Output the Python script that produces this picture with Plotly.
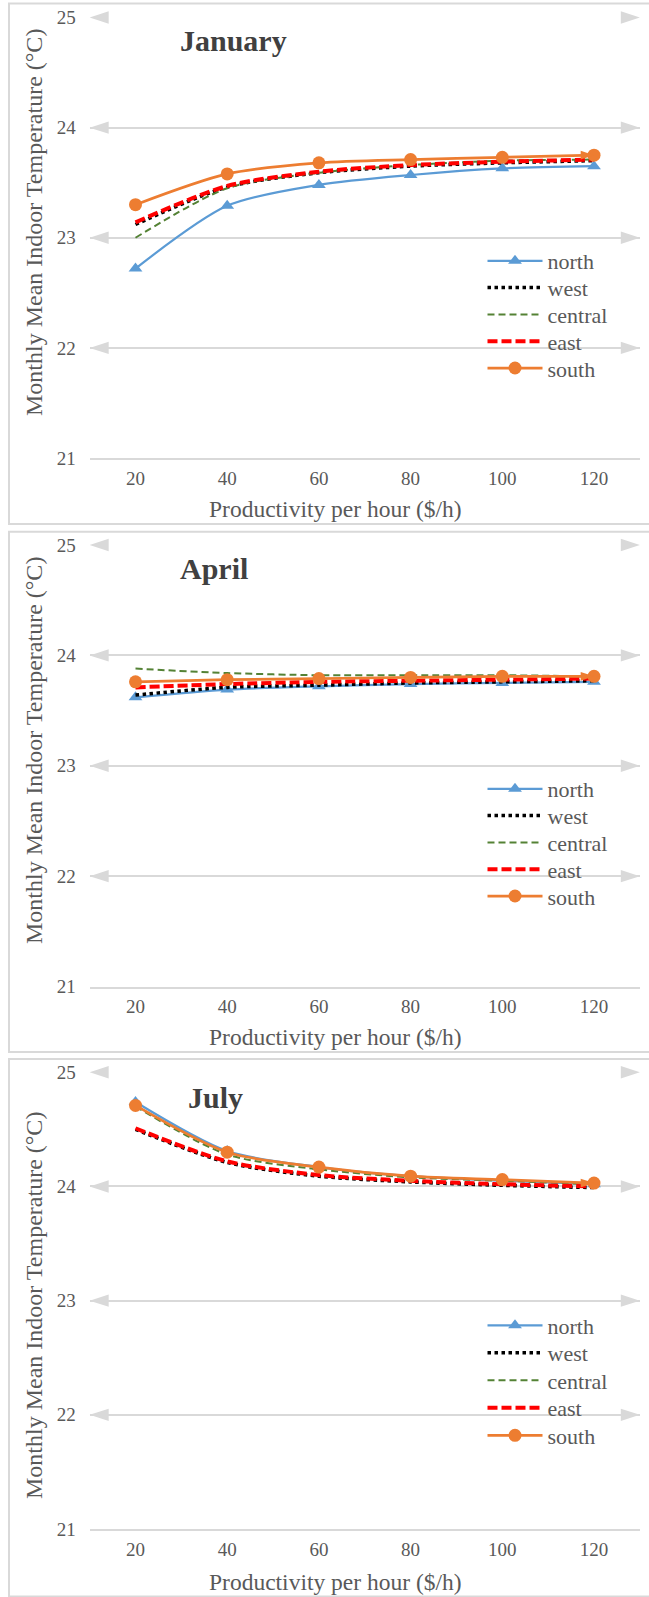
import plotly.graph_objects as go

# ---------------------------------------------------------------- data
productivity = [20, 40, 60, 80, 100, 120]
temp_ticks = [21, 22, 23, 24, 25]
zones = ["north", "west", "central", "east", "south"]
months = ["January", "April", "July"]

jan_north = [22.72, 23.29, 23.48, 23.57, 23.63, 23.65]
jan_west = [23.12, 23.46, 23.59, 23.65, 23.68, 23.70]
jan_central = [23.00, 23.45, 23.59, 23.66, 23.70, 23.71]
jan_east = [23.14, 23.47, 23.60, 23.66, 23.69, 23.71]
jan_south = [23.30, 23.58, 23.68, 23.71, 23.73, 23.75]

apr_north = [23.62, 23.69, 23.72, 23.74, 23.75, 23.76]
apr_west = [23.64, 23.71, 23.73, 23.75, 23.76, 23.77]
apr_central = [23.88, 23.84, 23.82, 23.82, 23.82, 23.81]
apr_east = [23.71, 23.74, 23.76, 23.77, 23.78, 23.79]
apr_south = [23.76, 23.78, 23.79, 23.80, 23.81, 23.81]

jul_north = [24.74, 24.31, 24.17, 24.09, 24.05, 24.02]
jul_west = [24.50, 24.21, 24.09, 24.04, 24.01, 23.99]
jul_central = [24.70, 24.28, 24.15, 24.08, 24.05, 24.02]
jul_east = [24.51, 24.22, 24.10, 24.05, 24.02, 24.00]
jul_south = [24.71, 24.30, 24.17, 24.09, 24.06, 24.03]

month_series = [
    [jan_north, jan_west, jan_central, jan_east, jan_south],
    [apr_north, apr_west, apr_central, apr_east, apr_south],
    [jul_north, jul_west, jul_central, jul_east, jul_south],
]

# ---------------------------------------------------------------- layout geometry (pixels)
W, H = 649, 1597
X_LEFT, X_RIGHT = 89.65, 639.85          # plot area horizontally
X_RANGE = [10, 130]
panels = [
    dict(top=17.5, bottom=458.0, ftop=3.5, fbot=524.0, title_y=40, title_x=178,
         legend_row0=261.0, legend_step=26.8, ytitle=223, xtitle=509),
    dict(top=545.0, bottom=986.5, ftop=531.7, fbot=1052.0, title_y=568, title_x=178,
         legend_row0=789.0, legend_step=26.8, ytitle=751, xtitle=1037),
    dict(top=1072.3, bottom=1529.0, ftop=1059.0, fbot=1596.5, title_y=1097, title_x=186,
         legend_row0=1325.5, legend_step=27.5, ytitle=1306, xtitle=1582),
]

GRID = "#D9D9D9"
TEXT = "#595959"
SERIF = "Liberation Serif"

styles = {
    "north": dict(line=dict(color="#5B9BD5", width=2.2),
                  marker=dict(symbol="triangle-up", size=12, color="#5B9BD5"),
                  mode="lines+markers"),
    "west": dict(line=dict(color="#000000", width=3.5, dash="dot"), mode="lines"),
    "central": dict(line=dict(color="#548235", width=2, dash="7px,4px"), mode="lines"),
    "east": dict(line=dict(color="#FF0000", width=4, dash="10px,4px"), mode="lines"),
    "south": dict(line=dict(color="#ED7D31", width=2.75),
                  marker=dict(symbol="circle", size=13, color="#ED7D31"),
                  mode="lines+markers"),
}


def py(p):
    return 1 - p / H


def px(p):
    return p / W


fig = go.Figure()
shapes, annotations = [], []
legends = {}

for i, (month, series, pan) in enumerate(zip(months, month_series, panels)):
    n = "" if i == 0 else str(i + 1)
    xa, ya = "x" + n, "y" + n

    # arrow heads on both ends of every horizontal gridline
    for t in temp_ticks[1:]:
        fig.add_trace(go.Scatter(
            x=[X_RANGE[0], X_RANGE[1]], y=[t, t], xaxis=xa, yaxis=ya,
            mode="markers", cliponaxis=False, showlegend=False, hoverinfo="skip",
            marker=dict(symbol="arrow", angle=[-90, 90], size=20, color=GRID,
                        line=dict(width=0)),
        ))

    for k, (zone, vals) in enumerate(zip(zones, series)):
        st = styles[zone]
        # one single-entry legend per series keeps the rows tightly spaced
        idx = i * len(zones) + k + 1
        leg = "legend" if idx == 1 else f"legend{idx}"
        legends[leg] = dict(
            x=px(482.5), y=py(pan["legend_row0"] + k * pan["legend_step"]),
            xanchor="left", yanchor="middle", bgcolor="rgba(0,0,0,0)",
            borderwidth=0, itemwidth=55,
            font=dict(family=SERIF, size=22, color=TEXT),
        )
        fig.add_trace(go.Scatter(
            x=productivity, y=vals, name=zone,
            xaxis=xa, yaxis=ya, legend=leg, mode=st["mode"],
            line=dict(shape="spline", smoothing=0.8, **st["line"]),
            marker=st.get("marker"), cliponaxis=False,
        ))

    # end arrow of the south series
    fig.add_trace(go.Scatter(
        x=productivity[-1:], y=series[-1][-1:], xaxis=xa, yaxis=ya,
        mode="markers", cliponaxis=False, showlegend=False, hoverinfo="skip",
        marker=dict(symbol="arrow", angle=90, size=14, color="#ED7D31",
                    line=dict(width=0)),
    ))

    dom_y = [py(pan["bottom"]), py(pan["top"])]
    fig.update_layout({
        "xaxis" + n: dict(
            domain=[px(X_LEFT), px(X_RIGHT)], range=X_RANGE, anchor=ya,
            tickvals=productivity, showgrid=False, zeroline=False,
            showline=True, linecolor=GRID, linewidth=2, ticks="",
            ticklabelstandoff=2, automargin=False,
            tickfont=dict(family=SERIF, size=19, color=TEXT),
        ),
        "yaxis" + n: dict(
            domain=dom_y, range=[21, 25], anchor=xa, tickvals=temp_ticks,
            showgrid=True, gridcolor=GRID, gridwidth=2, zeroline=False,
            showline=False, ticks="", ticklabelstandoff=13, automargin=False,
            tickfont=dict(family=SERIF, size=19, color=TEXT),
        ),
    })

    # panel frame
    shapes.append(dict(type="rect", xref="paper", yref="paper",
                       x0=px(9), x1=px(W + 10), y0=py(pan["fbot"]), y1=py(pan["ftop"]),
                       line=dict(color=GRID, width=2), fillcolor="rgba(0,0,0,0)",
                       layer="below"))

    annotations.append(dict(text=month, xref="paper", yref="paper",
                            x=px(pan["title_x"]), y=py(pan["title_y"]),
                            xanchor="left", yanchor="middle", showarrow=False,
                            font=dict(family=SERIF, size=30, color="#404040", weight="bold")))
    annotations.append(dict(text="Monthly Mean Indoor Temperature (°C)",
                            xref="paper", yref="paper", x=px(34), y=py(pan["ytitle"]),
                            xanchor="center", yanchor="middle", textangle=-90,
                            showarrow=False, font=dict(family=SERIF, size=24, color=TEXT)))
    annotations.append(dict(text="Productivity per hour ($/h)",
                            xref="paper", yref="paper", x=px(335), y=py(pan["xtitle"]),
                            xanchor="center", yanchor="middle", showarrow=False,
                            font=dict(family=SERIF, size=23.5, color=TEXT)))

fig.update_layout(
    width=W, height=H, margin=dict(l=0, r=0, t=0, b=0, autoexpand=False),
    paper_bgcolor="white", plot_bgcolor="white",
    font=dict(family=SERIF, color=TEXT),
    shapes=shapes, annotations=annotations, showlegend=True,
    **legends,
)

fig.write_html("out.html")
